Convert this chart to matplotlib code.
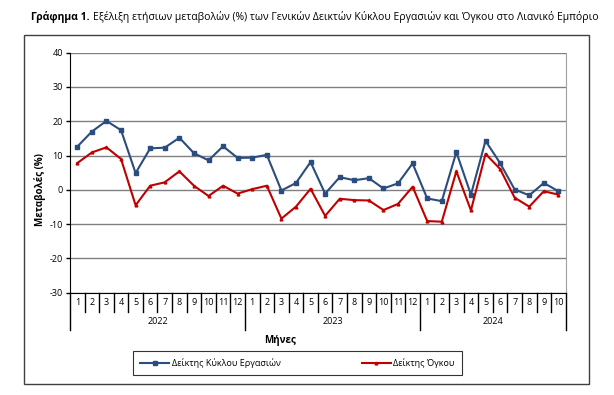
import matplotlib
matplotlib.use("Agg")
import matplotlib.pyplot as plt
from matplotlib.patches import Rectangle
from matplotlib.lines import Line2D
import matplotlib.transforms as mtransforms

plt.rcParams['font.family'] = ['Open Sans', 'DejaVu Sans']
plt.rcParams['axes.unicode_minus'] = False

# data
years = ["2022", "2023", "2024"]
months_per_year = [12, 12, 10]
month_labels = [str(m) for n in months_per_year for m in range(1, n + 1)]

turnover = [12.6, 17.0, 20.1, 17.4, 4.9, 12.1, 12.3, 15.2, 10.7, 8.6, 12.7, 9.3,
            9.4, 10.2, -0.2, 2.0, 8.1, -1.1, 3.7, 2.8, 3.4, 0.4, 1.9, 7.7,
            -2.5, -3.3, 11.0, -1.4, 14.3, 7.8, 0.1, -1.6, 2.0, -0.4]
volume = [7.8, 10.9, 12.4, 9.0, -4.5, 1.2, 2.2, 5.4, 1.2, -1.8, 1.2, -1.1,
          0.2, 1.2, -8.4, -4.9, 0.3, -7.6, -2.6, -3.0, -3.1, -5.9, -4.1, 0.9,
          -9.1, -9.3, 5.4, -6.0, 10.5, 6.1, -2.3, -4.9, -0.4, -1.4]

W, H = 614, 395
fig = plt.figure(figsize=(W / 100, H / 100), dpi=100)
ax = fig.add_axes([70 / W, (H - 292.7) / H, (565.7 - 70) / W, (292.7 - 52.7) / H])

x = list(range(len(month_labels)))
ax.plot(x, turnover, color='#2B4C7E', lw=1.5, marker='s', ms=3, zorder=3)
ax.plot(x, volume, color='#C00000', lw=1.5, marker='^', ms=2, zorder=3)

ax.set_xlim(-0.5, len(x) - 0.5)
ax.set_ylim(-30, 40)
ax.set_yticks(range(-30, 41, 10))
ax.yaxis.grid(True, color='#808080', lw=1)
ax.set_axisbelow(True)
ax.tick_params(axis='y', length=3, width=1, labelsize=6.5, pad=2)
ax.set_xticks([])
ax.spines['top'].set_visible(False)
ax.spines['right'].set_color('#A0A0A0')
ax.spines['left'].set_color('black')
ax.spines['bottom'].set_color('black')

# multi-level category axis
tr = mtransforms.blended_transform_factory(ax.transData, ax.transAxes)
year_bounds = [-0.5]
for n in months_per_year:
    year_bounds.append(year_bounds[-1] + n)
for k in range(len(x) + 1):
    xb = k - 0.5
    y1 = -0.155 if xb in year_bounds else -0.079
    ax.add_line(Line2D([xb, xb], [0, y1], transform=tr, color='black', lw=1, clip_on=False))
for i, lab in enumerate(month_labels):
    ax.text(i, -0.04, lab, transform=tr, ha='center', va='center', fontsize=6.5)
for j, yr in enumerate(years):
    ax.text((year_bounds[j] + year_bounds[j + 1]) / 2, -0.122, yr, transform=tr,
            ha='center', va='center', fontsize=6.5)

fig.text(40 / W, 1 - 190 / H, "Μεταβολές (%)", rotation=90, ha='center', va='center',
         fontsize=7, fontweight='bold')
fig.text(280 / W, 1 - 340 / H, "Μήνες", ha='center', va='center', fontsize=7, fontweight='bold')

# title
t1 = fig.text(31 / W, 1 - 17 / H, "Γράφημα 1.", ha='left', va='center', fontsize=7.5, fontweight='bold')
fig.canvas.draw()
bb = t1.get_window_extent()
fig.text(bb.x1 / W + 3 / W, 1 - 17 / H,
         "Εξέλιξη ετήσιων μεταβολών (%) των Γενικών Δεικτών Κύκλου Εργασιών και Όγκου στο Λιανικό Εμπόριο",
         ha='left', va='center', fontsize=7.5)

# outer frame
fig.patches.append(Rectangle((24.3 / W, (H - 384) / H), 565 / W, 349 / H, transform=fig.transFigure,
                             fill=False, edgecolor='#404040', lw=1))

# legend
handles = [Line2D([], [], color='#2B4C7E', lw=1.5, marker='s', ms=3),
           Line2D([], [], color='#C00000', lw=1.5, marker='^', ms=2)]
leg = fig.legend(handles, ["Δείκτης Κύκλου Εργασιών", "Δείκτης Όγκου"],
                 loc='center', bbox_to_anchor=(297.5 / W, 1 - 363 / H), ncol=2,
                 fontsize=6.5, frameon=True, fancybox=False, edgecolor='black',
                 handlelength=3.2, handletextpad=0.3, columnspacing=9, borderpad=0.8)
leg.get_frame().set_linewidth(0.8)

fig.savefig("out.png", dpi=100)
